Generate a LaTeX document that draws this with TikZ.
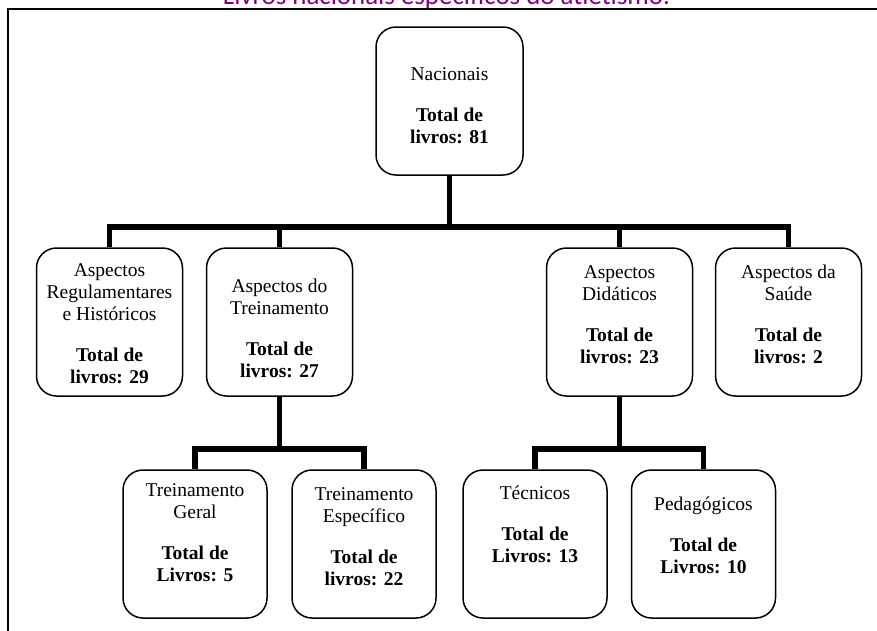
\documentclass[tikz,border=0pt]{standalone}
\usepackage{fontspec}
\setmainfont{Liberation Serif}
\newfontfamily\capfont{Carlito}
\usetikzlibrary{calc}
\definecolor{capmagenta}{RGB}{128,0,128}
\newcommand{\firstline}{\rule{0pt}{16pt}}
\begin{document}
\begin{tikzpicture}[x=1pt,y=-1pt,
  box/.style={draw, line width=1.5pt, rounded corners=20pt, minimum width=146pt, minimum height=148pt, inner sep=0pt},
  sbox/.style={box, minimum width=144pt},
  txt/.style={align=center, inner sep=0pt, anchor=north, font=\fontsize{19.5}{22}\selectfont},
  conn/.style={line width=5.5pt, line join=miter},
  framestyle/.style={line width=2pt, line join=miter}]
\useasboundingbox (0,0) rectangle (877,630);

% frame and caption
\draw[framestyle] (8,640) -- (8,9) -- (890,9);
\node[font=\capfont\fontsize{24}{24}\selectfont, text=capmagenta, anchor=south, inner sep=0pt] (cap) at (446.5,9)
  {\resizebox{447pt}{!}{Livros nacionais específicos do atletismo.}};

% boxes
\node[box, minimum width=147pt] (r) at (449.5,101) {};
\node[box] (c1) at (109.5,322) {};
\node[box] (c2) at (279.5,322) {};
\node[box] (c3) at (619.5,322) {};
\node[box] (c4) at (788.5,322) {};
\node[sbox] (g1) at (195,544) {};
\node[sbox] (g2) at (364,544) {};
\node[sbox] (g3) at (535,544) {};
\node[sbox] (g4) at (703.5,544) {};

% texts
\node[txt] (rt) at (449.5,64) {\firstline Nacionais\\[19pt]\textbf{Total de}\\\textbf{livros: 81}};
\node[txt] (c1t) at (109.5,260) {\firstline Aspectos\\Regulamentares\\e Históricos\\[19pt]\textbf{Total de}\\\textbf{livros: 29}};
\node[txt] (c2t) at (279.5,276) {\firstline Aspectos do\\Treinamento\\[19pt]\textbf{Total de}\\\textbf{livros: 27}};
\node[txt] (c3t) at (619.5,262) {\firstline Aspectos\\Didáticos\\[19pt]\textbf{Total de}\\\textbf{livros: 23}};
\node[txt] (c4t) at (788.5,262) {\firstline Aspectos da\\Saúde\\[19pt]\textbf{Total de}\\\textbf{livros: 2}};
\node[txt] (g1t) at (195,480) {\firstline Treinamento\\Geral\\[19pt]\textbf{Total de}\\\textbf{Livros: 5}};
\node[txt] (g2t) at (364,484) {\firstline Treinamento\\Específico\\[19pt]\textbf{Total de}\\\textbf{livros: 22}};
\node[txt] (g3t) at (535,483) {\firstline Técnicos\\[19pt]\textbf{Total de}\\\textbf{Livros: 13}};
\node[txt] (g4t) at (703.5,494) {\firstline Pedagógicos\\[19pt]\textbf{Total de}\\\textbf{Livros: 10}};

% connectors
\coordinate (j1) at (449.5,227);
\coordinate (j2) at (279.5,449);
\coordinate (j3) at (619.5,449);
\draw[conn] (r.south) -- (j1);
\draw[conn] (c1.north) |- (j1) -| (c4.north);
\draw[conn] (c2.north) -- (c2.north |- j1);
\draw[conn] (c3.north) -- (c3.north |- j1);
\draw[conn] (c2.south) -- (j2);
\draw[conn] (g1.north) |- (j2) -| (g2.north);
\draw[conn] (c3.south) -- (j3);
\draw[conn] (g3.north) |- (j3) -| (g4.north);
\end{tikzpicture}
\end{document}
